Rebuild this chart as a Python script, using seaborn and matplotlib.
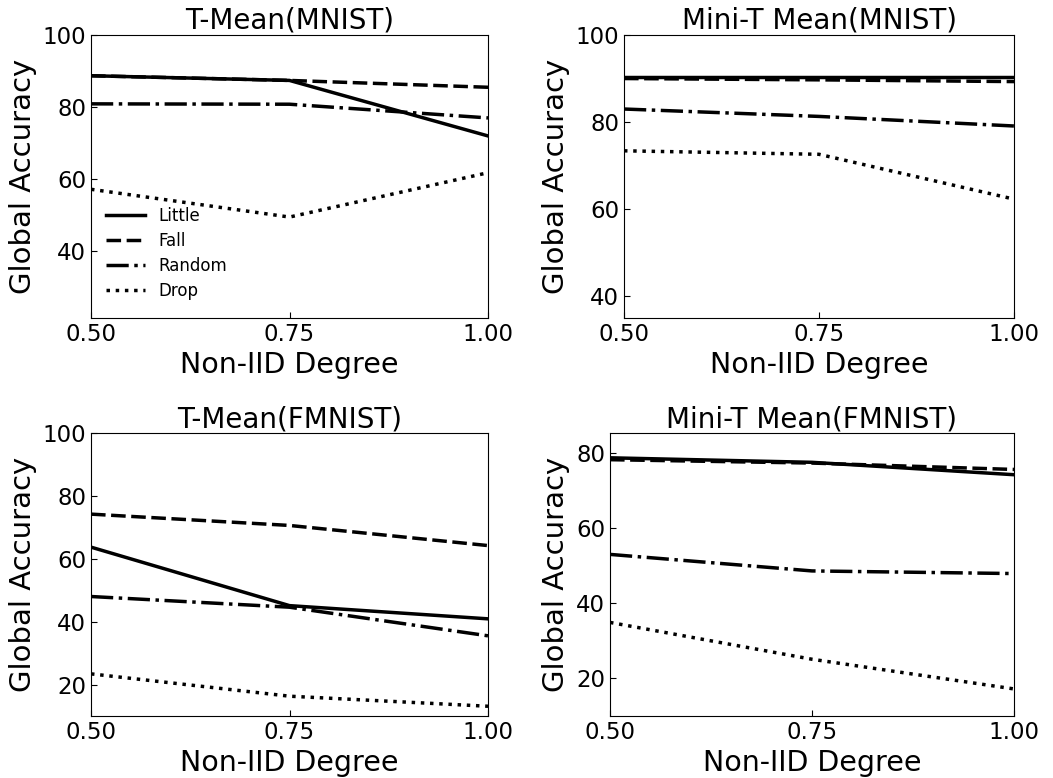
import matplotlib
matplotlib.use("Agg")
import matplotlib.pyplot as plt
import seaborn as sns
import pandas as pd

x_vals = [0.50, 0.75, 1.00]
attacks = ["Little", "Fall", "Random", "Drop"]

titles = ["T-Mean(MNIST)", "Mini-T Mean(MNIST)", "T-Mean(FMNIST)", "Mini-T Mean(FMNIST)"]

tmean_mnist = {
    "Little": [88.7, 87.4, 72.0],
    "Fall": [88.7, 87.4, 85.5],
    "Random": [80.9, 80.8, 77.0],
    "Drop": [57.2, 49.5, 61.8],
}
minit_mnist = {
    "Little": [90.4, 90.4, 90.4],
    "Fall": [90.0, 89.7, 89.3],
    "Random": [83.0, 81.3, 79.1],
    "Drop": [73.4, 72.6, 62.3],
}
tmean_fmnist = {
    "Little": [63.7, 45.1, 40.9],
    "Fall": [74.2, 70.6, 64.2],
    "Random": [48.0, 44.6, 35.5],
    "Drop": [23.4, 16.3, 13.1],
}
minit_fmnist = {
    "Little": [78.7, 77.5, 74.2],
    "Fall": [78.2, 77.3, 75.6],
    "Random": [53.0, 48.6, 47.9],
    "Drop": [34.9, 25.1, 17.2],
}

datasets = [tmean_mnist, minit_mnist, tmean_fmnist, minit_fmnist]
ylims = [(21.5, 100), (35, 100), (10, 100), (10, 85.3)]
yticks = [[40, 60, 80, 100], [40, 60, 80, 100], [20, 40, 60, 80, 100], [20, 40, 60, 80]]

W, H = 1053, 778
# axes boxes in pixels: left, top, right, bottom
boxes = [
    (91, 35, 488, 318),
    (624, 35, 1014, 318),
    (91, 433, 488, 716),
    (610, 433, 1014, 716),
]

dash_map = {
    "Little": "",
    "Fall": (4.2, 1.6),
    "Random": (6.4, 1.6, 1.0, 1.6),
    "Drop": (1.0, 1.65),
}

fig = plt.figure(figsize=(W / 100, H / 100), dpi=100)

for i, (data, title) in enumerate(zip(datasets, titles)):
    l, t, r, b = boxes[i]
    ax = fig.add_axes([l / W, 1 - b / H, (r - l) / W, (b - t) / H])
    rows = []
    for a in attacks:
        for xv, yv in zip(x_vals, data[a]):
            rows.append({"x": xv, "y": yv, "Attack": a})
    df = pd.DataFrame(rows)
    sns.lineplot(data=df, x="x", y="y", style="Attack", style_order=attacks,
                 dashes=dash_map, color="black", linewidth=2.5, ax=ax,
                 legend=(i == 0))
    ax.set_xlim(0.5, 1.0)
    ax.set_ylim(*ylims[i])
    ax.set_xticks(x_vals)
    ax.set_xticklabels([f"{v:.2f}" for v in x_vals])
    ax.set_yticks(yticks[i])
    ax.tick_params(direction="in", labelsize=16.5, length=4, width=0.8)
    ax.set_title(title, fontsize=20, pad=4)
    ax.set_xlabel("Non-IID Degree", fontsize=20.5)
    ax.set_ylabel("Global Accuracy", fontsize=21)
    for s in ax.spines.values():
        s.set_linewidth(0.8)
        s.set_color("black")
    if i == 0:
        leg = ax.legend(loc="lower left", bbox_to_anchor=(0.0, 0.01), frameon=False,
                        fontsize=12, handlelength=2.35, labelspacing=0.42)

fig.savefig("out.png", dpi=100)
